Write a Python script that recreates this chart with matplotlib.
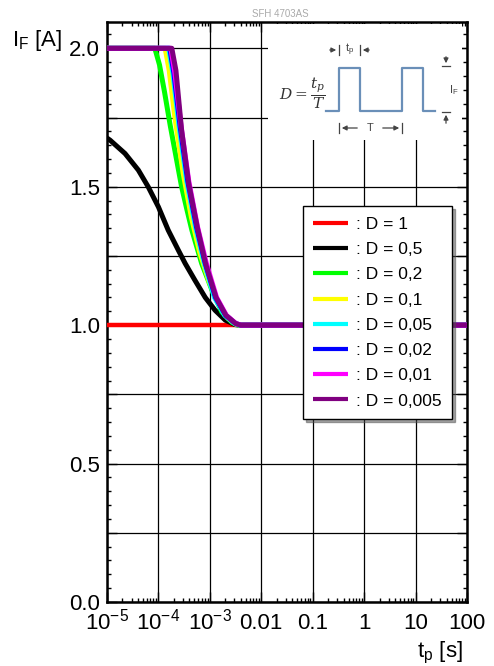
import matplotlib
matplotlib.use("Agg")
import matplotlib.pyplot as plt
from matplotlib.ticker import FixedLocator, LogLocator, NullFormatter, FixedFormatter, MultipleLocator

plt.rcParams['font.family'] = ['Liberation Sans', 'DejaVu Sans']
plt.rcParams['mathtext.fontset'] = 'custom'
plt.rcParams['mathtext.rm'] = 'Liberation Sans'
plt.rcParams['mathtext.it'] = 'Liberation Sans:italic'

# ---------------- data ----------------
labels = [": D = 1", ": D = 0,5", ": D = 0,2", ": D = 0,1", ": D = 0,05",
          ": D = 0,02", ": D = 0,01", ": D = 0,005"]
colors = ["#ff0000", "#000000", "#00ff00", "#ffff00", "#00ffff",
          "#0000ff", "#ff00ff", "#800080"]

t_d1 = [1e-5, 100]
i_d1 = [1.0, 1.0]

t_d05 = [1e-5, 1.15e-5, 2.24e-5, 4.07e-5, 6.31e-5, 1e-4, 1.55e-4, 2.45e-4, 3.31e-4,
         5.13e-4, 8.13e-4, 1.26e-3, 2.0e-3, 3.09e-3, 3.98e-3, 100]
i_d05 = [1.676, 1.668, 1.620, 1.560, 1.500, 1.427, 1.343, 1.270, 1.223,
         1.162, 1.100, 1.054, 1.018, 1.002, 1.0, 1.0]

t_d02 = [1e-5, 8.51e-5, 1.05e-4, 1.32e-4, 1.70e-4, 2.19e-4, 2.82e-4, 3.55e-4, 4.47e-4,
         6.92e-4, 1.10e-3, 1.70e-3, 2.69e-3, 3.55e-3, 100]
i_d02 = [2.0, 2.0, 1.94, 1.84, 1.72, 1.61, 1.50, 1.42, 1.343,
         1.223, 1.126, 1.048, 1.01, 1.0, 1.0]

t_d01 = [1e-5, 1.35e-4, 1.62e-4, 2.09e-4, 3.02e-4, 4.37e-4, 6.31e-4, 9.55e-4, 1.45e-3,
         2.24e-3, 3.16e-3, 3.98e-3, 100]
i_d01 = [2.0, 2.0, 1.92, 1.75, 1.55, 1.39, 1.265, 1.16, 1.08,
         1.025, 1.004, 1.0, 1.0]

t_d005 = [1e-5, 1.58e-4, 1.91e-4, 2.51e-4, 3.55e-4, 5.25e-4, 7.76e-4, 1.23e-3, 1.95e-3,
          3.02e-3, 3.8e-3, 100]
i_d005 = [2.0, 2.0, 1.91, 1.72, 1.52, 1.355, 1.225, 1.10, 1.035,
          1.006, 1.0, 1.0]

t_d002 = [1e-5, 1.66e-4, 2.0e-4, 2.63e-4, 3.72e-4, 5.5e-4, 8.1e-4, 1.29e-3, 2.04e-3,
          3.16e-3, 3.98e-3, 100]
i_d002 = [2.0, 2.0, 1.91, 1.72, 1.52, 1.355, 1.225, 1.10, 1.035,
          1.006, 1.0, 1.0]

t_d001 = [1e-5, 1.74e-4, 2.09e-4, 2.75e-4, 3.89e-4, 5.75e-4, 8.5e-4, 1.35e-3, 2.1e-3,
          3.2e-3, 4.0e-3, 100]
i_d001 = [2.0, 2.0, 1.91, 1.72, 1.52, 1.355, 1.225, 1.10, 1.035,
          1.006, 1.0, 1.0]

t_d0005 = [1e-5, 1.82e-4, 2.19e-4, 2.82e-4, 3.89e-4, 5.75e-4, 8.32e-4, 1.32e-3, 2.04e-3,
           3.16e-3, 3.98e-3, 100]
i_d0005 = [2.0, 2.0, 1.92, 1.705, 1.51, 1.35, 1.22, 1.10, 1.036,
           1.006, 1.0, 1.0]

series_t = [t_d1, t_d05, t_d02, t_d01, t_d005, t_d002, t_d001, t_d0005]
series_i = [i_d1, i_d05, i_d02, i_d01, i_d005, i_d002, i_d001, i_d0005]

x_ticks = [1e-5, 1e-4, 1e-3, 1e-2, 1e-1, 1, 10, 100]
x_ticklabels = [r"$10^{\mathregular{-5}}$", r"$10^{\mathregular{-4}}$", r"$10^{\mathregular{-3}}$",
                "0.01", "0.1", "1", "10", "100"]
y_ticks = [0.0, 0.25, 0.5, 0.75, 1.0, 1.25, 1.5, 1.75, 2.0]
y_ticklabels = ["0.0", "", "0.5", "", "1.0", "", "1.5", "", "2.0"]

# ---------------- figure ----------------
W, H = 494, 666
fig = plt.figure(figsize=(W / 100, H / 100), dpi=100)
ax = fig.add_axes([107 / W, 1 - 602 / H, 360 / W, 580 / H])

for t, i, c, lab in zip(series_t, series_i, colors, labels):
    ax.plot(t, i, color=c, lw=3.6 if c != "#ff0000" else 3.2, label=lab,
            solid_capstyle='butt', solid_joinstyle='round', zorder=3)

ax.set_xscale('log')
ax.set_xlim(1e-5, 100)
ax.set_ylim(0, 2.095)
ax.xaxis.set_major_locator(FixedLocator(x_ticks))
ax.xaxis.set_major_formatter(FixedFormatter(x_ticklabels))
ax.xaxis.set_minor_locator(LogLocator(base=10, subs=range(2, 10), numticks=50))
ax.xaxis.set_minor_formatter(NullFormatter())
ax.yaxis.set_major_locator(FixedLocator(y_ticks))
ax.yaxis.set_major_formatter(FixedFormatter(y_ticklabels))
ax.yaxis.set_minor_locator(MultipleLocator(0.05))

ax.tick_params(which='both', direction='in', top=True, right=True, width=1.0)
ax.tick_params(which='major', length=7, labelsize=16)
ax.tick_params(which='minor', length=3)
ax.tick_params(axis='y', which='major', pad=5)
ax.tick_params(axis='x', which='major', pad=19.5)
for lbl in ax.get_xticklabels():
    lbl.set_verticalalignment('baseline')
for s in ax.spines.values():
    s.set_linewidth(1.8)
ax.grid(True, which='major', color='black', lw=0.9)
ax.set_axisbelow(True)

leg = ax.legend(loc='upper left', bbox_to_anchor=(0.544, 0.682), fontsize=12.5,
                frameon=True, fancybox=False, shadow=True, edgecolor='black',
                framealpha=1, handlelength=2.0, handletextpad=0.45,
                labelspacing=0.58, borderpad=0.6, borderaxespad=0)
leg.get_frame().set_linewidth(1.0)
leg.set_zorder(5)
for ln in leg.get_lines():
    ln.set_linewidth(3.0)

# labels
fig.text(12 / W, 1 - 46 / H, r"I$_{\mathregular{F}}$ [A]", fontsize=16, ha='left', va='baseline')
fig.text(463 / W, 1 - 657 / H, r"t$_{\mathregular{p}}$ [s]", fontsize=16, ha='right', va='baseline')
fig.text(280 / W, 1 - 17 / H, "SFH 4703AS", fontsize=7, color='#aaaaaa', ha='center', va='baseline')

# inset diagram
ins = fig.add_axes([268 / W, 1 - 140 / H, 194 / W, 116 / H])
ins.set_xlim(268, 462)
ins.set_ylim(140, 24)
ins.set_facecolor('white')
ins.set_xticks([])
ins.set_yticks([])
for s in ins.spines.values():
    s.set_visible(False)
pc = '#6a8fb8'
ins.plot([326, 339, 339, 360, 360, 402, 402, 423, 423, 435],
         [111, 111, 68, 68, 111, 111, 68, 68, 111, 111], color=pc, lw=1.6)
gc = '#444444'
ak = dict(arrowstyle='-|>', color=gc, lw=0.9, mutation_scale=7)
ins.annotate('', xy=(339, 50), xytext=(327, 50), arrowprops=ak)
ins.annotate('', xy=(360, 50), xytext=(372, 50), arrowprops=ak)
ins.plot([339, 339], [45, 55], color=gc, lw=0.9)
ins.plot([360, 360], [45, 55], color=gc, lw=0.9)
ins.text(350, 50, r"t$_{\mathregular{p}}$", fontsize=8, color=gc, ha='center', va='center')
ins.annotate('', xy=(339, 128), xytext=(360, 128), arrowprops=ak)
ins.annotate('', xy=(402, 128), xytext=(380, 128), arrowprops=ak)
ins.plot([339, 339], [123, 133], color=gc, lw=0.9)
ins.plot([402, 402], [123, 133], color=gc, lw=0.9)
ins.text(370, 128, "T", fontsize=8, color=gc, ha='center', va='center')
ins.annotate('', xy=(446, 66), xytext=(446, 54), arrowprops=ak)
ins.annotate('', xy=(446, 112), xytext=(446, 126), arrowprops=ak)
ins.plot([442, 450], [66, 66], color=gc, lw=0.9)
ins.plot([442, 450], [112, 112], color=gc, lw=0.9)
ins.text(449, 90, r"I$_{\mathregular{F}}$", fontsize=8, color=gc, ha='left', va='center')
ins.text(279, 93, r"$D=\dfrac{t_p}{T}$", fontsize=11, color='#333333', ha='left', va='center',
         math_fontfamily='dejavuserif')

fig.savefig("out.png", dpi=100)
